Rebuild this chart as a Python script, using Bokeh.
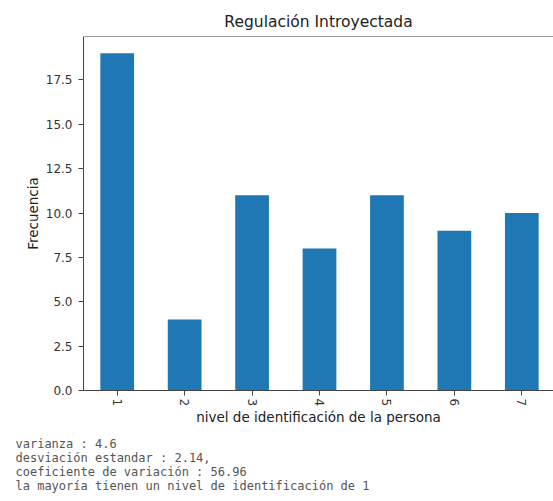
from bokeh.plotting import figure
from bokeh.models import (ColumnDataSource, FixedTicker, SingleIntervalTicker, Range1d,
                          Title, Span, NumeralTickFormatter)
from bokeh.embed import file_html
from bokeh.resources import INLINE

# ---- data ----
categories = ["1", "2", "3", "4", "5", "6", "7"]
frecuencia = [19, 4, 11, 8, 11, 9, 10]
title_text = "Regulación Introyectada"
x_label = "nivel de identificación de la persona"
y_label = "Frecuencia"
summary_lines = [
    "varianza : 4.6",
    "desviación estandar : 2.14,",
    "coeficiente de variación : 56.96",
    "la mayoría tienen un nivel de identificación de 1",
]

positions = list(range(len(categories)))
src = ColumnDataSource(dict(x=positions, top=frecuencia, cat=categories))

W, H = 553, 501
p = figure(width=W, height=H, output_backend="svg", toolbar_location=None,
           x_range=Range1d(-0.5, 6.47), y_range=Range1d(0, max(frecuencia) * 1.05),
           min_border_left=83, min_border_right=0, min_border_top=36,
           min_border_bottom=111)

p.vbar(x="x", top="top", width=0.5, source=src, fill_color="#1f77b4",
       line_color=None)

p.title.text = title_text
p.title.align = "center"
p.title.text_font = "DejaVu Sans"
p.title.text_font_size = "15.5px"
p.title.text_font_style = "normal"
p.title.text_color = "#222222"
p.title.standoff = 12

p.outline_line_color = None
p.xgrid.visible = False
p.ygrid.visible = False
p.background_fill_color = "white"
p.border_fill_color = "white"

# top spine
p.add_layout(Span(location=max(frecuencia) * 1.05, dimension="width",
                  line_color="#444444", line_width=1))

# x axis
xa = p.xaxis[0]
xa.ticker = FixedTicker(ticks=positions)
xa.major_label_overrides = {i: c for i, c in zip(positions, categories)}
xa.major_label_orientation = "vertical"
xa.minor_tick_line_color = None
xa.major_tick_in = 0
xa.major_tick_out = 5
xa.axis_label = x_label
xa.axis_label_text_font = "DejaVu Sans"
xa.axis_label_text_font_size = "13.5px"
xa.axis_label_text_font_style = "normal"
xa.axis_label_text_color = "#222222"
xa.axis_label_standoff = 0
xa.major_label_text_font = "DejaVu Sans"
xa.major_label_text_font_size = "12px"
xa.major_label_text_color = "#333333"
xa.major_label_standoff = 3
xa.axis_line_color = "#444444"
xa.major_tick_line_color = "#444444"

# y axis
ya = p.yaxis[0]
ya.ticker = SingleIntervalTicker(interval=2.5)
ya.formatter = NumeralTickFormatter(format="0.0")
ya.minor_tick_line_color = None
ya.major_tick_in = 0
ya.major_tick_out = 5
ya.axis_label = y_label
ya.axis_label_text_font = "DejaVu Sans"
ya.axis_label_text_font_size = "13.5px"
ya.axis_label_text_font_style = "normal"
ya.axis_label_text_color = "#222222"
ya.axis_label_standoff = 2
ya.major_label_text_font = "DejaVu Sans"
ya.major_label_text_font_size = "12px"
ya.major_label_text_color = "#333333"
ya.major_label_standoff = 6
ya.axis_line_color = "#444444"
ya.major_tick_line_color = "#444444"

# small spacer between the x axis and the summary text
p.add_layout(Title(text=" ", align="left", text_font="DejaVu Sans Mono",
                   text_font_size="12px", standoff=-9), "below")

# summary text below the chart, stacked as left-aligned titles
for i, line in enumerate(summary_lines):
    t = Title(text=line, align="left", offset=-68,
              text_font="DejaVu Sans Mono", text_font_size="12px",
              text_font_style="normal", text_color="#555555",
              standoff=-2.3)
    p.add_layout(t, "below")

open("out.html", "w").write(file_html(p, INLINE))
